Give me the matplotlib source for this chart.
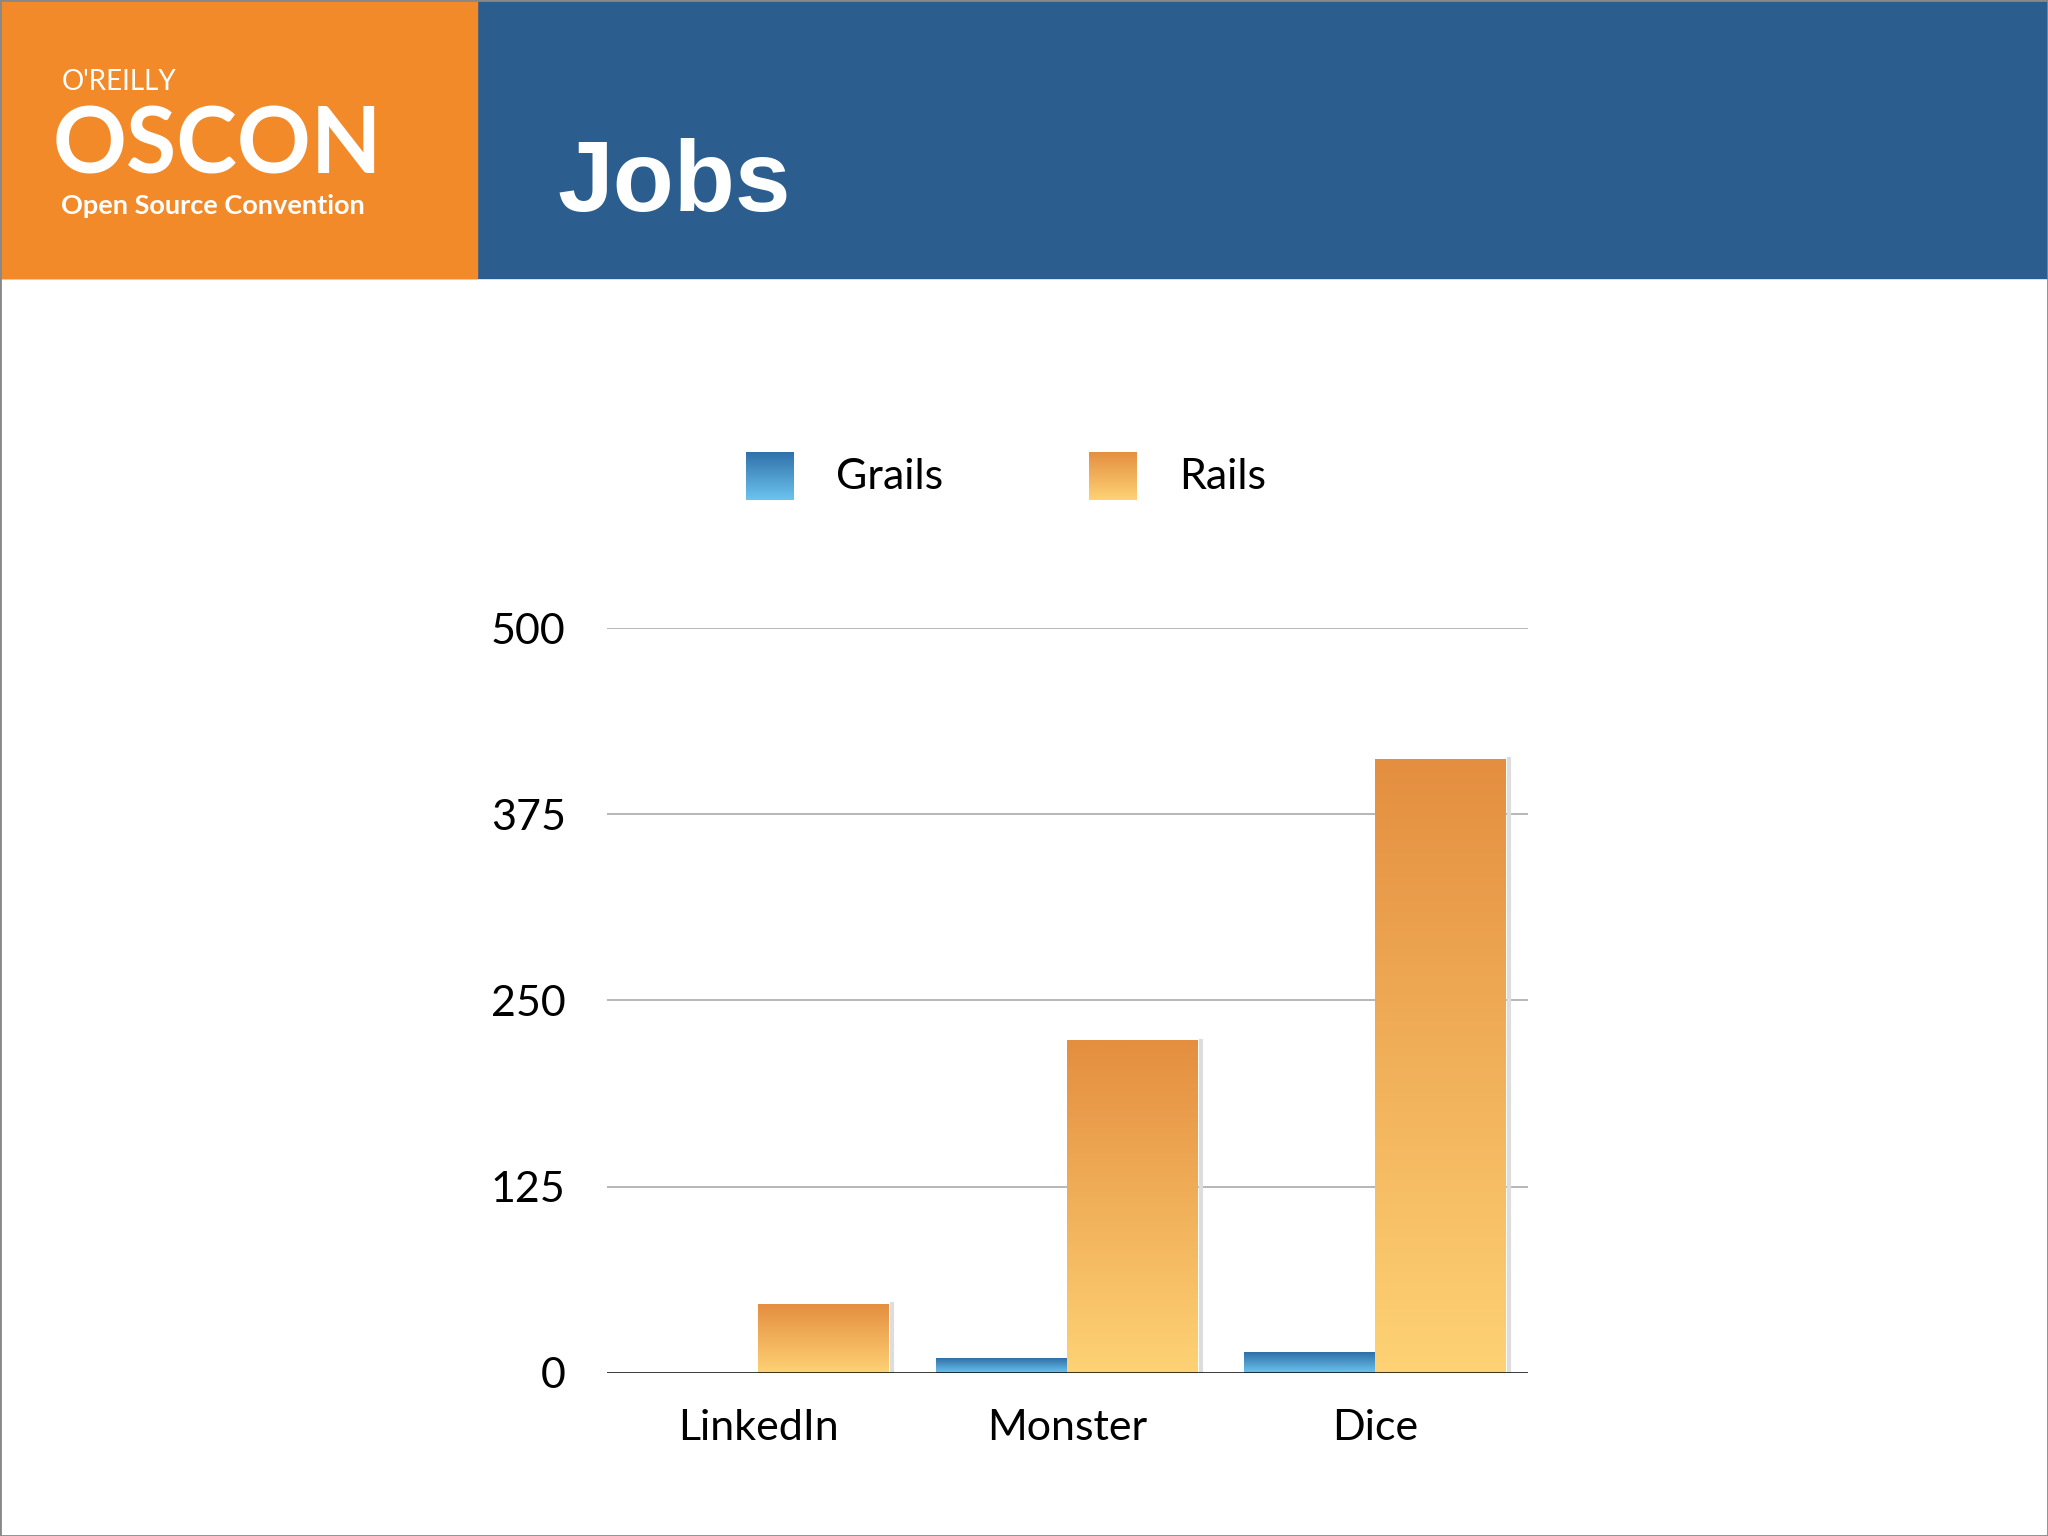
import matplotlib
matplotlib.use("Agg")
import matplotlib.pyplot as plt
import numpy as np
from matplotlib.patches import Rectangle
from matplotlib.colors import LinearSegmentedColormap

categories = ["LinkedIn", "Monster", "Dice"]
grails = [0, 10, 14]
rails = [46, 223, 412]
yticks = [0, 125, 250, 375, 500]

blue_cm = LinearSegmentedColormap.from_list("b", ["#6cc4ef", "#2f6fa8"])
orange_cm = LinearSegmentedColormap.from_list("o", ["#fed275", "#e48e40"])
grad = np.linspace(0, 1, 256).reshape(-1, 1)

fig = plt.figure(figsize=(20.48, 15.36), dpi=100)
fig.patch.set_facecolor("white")

# header
fig.patches.append(Rectangle((0, 1 - 213/1176), 1, 213/1176, transform=fig.transFigure,
                             color="#2b5e8e", zorder=0))
fig.patches.append(Rectangle((0, 1 - 213/1176), 365/1568, 213/1176, transform=fig.transFigure,
                             color="#f28a2a", zorder=1))
fig.patches.append(Rectangle((0, 0), 1, 1, transform=fig.transFigure, fill=False,
                             edgecolor="#888888", lw=2, zorder=5))
fig.text(47/1568, 1 - 63/1176, "O'REILLY", color="white", fontsize=20, family="Lato",
         va="center", ha="left")
fig.text(40/1568, 1 - 113/1176, "OSCON", color="white", fontsize=66, family="Lato",
         weight="bold", va="center", ha="left")
fig.text(47/1568, 1 - 158/1176, "Open Source Convention", color="white", fontsize=19.5,
         family="Lato", weight="bold", va="center", ha="left")
fig.text(427/1568, 1 - 142/1176, "Jobs", color="white", fontsize=72,
         family="Liberation Sans", weight="bold", va="center", ha="left")

# legend
for sx, tx, cm, name in [(571, 640, blue_cm, "Grails"), (834, 903, orange_cm, "Rails")]:
    lax = fig.add_axes([sx/1568, 1 - 383/1176, 36/1568, 37/1176])
    lax.imshow(grad, cmap=cm, aspect="auto", origin="lower", extent=[0, 1, 0, 1])
    lax.axis("off")
    fig.text(tx/1568, 1 - 365/1176, name, fontsize=31, family="Lato", va="center", ha="left")

ax = fig.add_axes([465/1568, 1 - 1051/1176, 705/1568, 570/1176])
w = 0.424
x = np.arange(len(categories))
for i in range(len(categories)):
    for val, x0, cm in [(grails[i], x[i] - w, blue_cm), (rails[i], x[i], orange_cm)]:
        if val <= 0:
            continue
        ax.imshow(grad, cmap=cm, aspect="auto", origin="lower",
                  extent=[x0, x0 + w, 0, val], zorder=3)
        ax.plot([x0 + w + 0.01] * 2, [0, val], color="#dddddd", lw=3, zorder=2)

ax.set_xlim(-0.49, 2.496)
ax.set_ylim(0, 500)
ax.set_aspect("auto")
for t in yticks[1:]:
    ax.axhline(t, color="#aaaaaa", lw=1.2, zorder=1)
ax.axhline(0, color="black", lw=1.8, zorder=4)
for s in ax.spines.values():
    s.set_visible(False)
ax.set_yticks(yticks)
ax.set_yticklabels([str(t) for t in yticks], fontsize=31, family="Lato")
ax.set_xticks(x)
ax.set_xticklabels(categories, fontsize=31, family="Lato")
ax.tick_params(length=0, pad=26)
ax.tick_params(axis="y", pad=30)

fig.savefig("out.png", dpi=100)
